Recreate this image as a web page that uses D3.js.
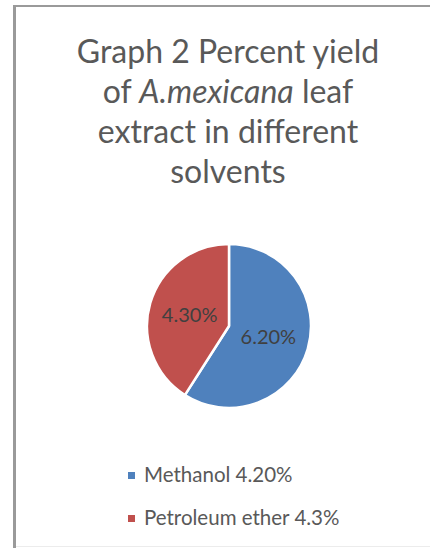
<!DOCTYPE html>
<meta charset="utf-8">
<script src="https://d3js.org/d3.v7.min.js"></script>
<style>
  body { margin: 0; background: #fff; }
  text { font-family: Lato, "Open Sans", sans-serif; }
</style>
<div id="chart"></div>
<script>
  // data
  var solvents = ["Methanol", "Petroleum ether"];
  var yields = [6.2, 4.3];
  var sliceLabels = ["6.20%", "4.30%"];
  var legendLabels = ["Methanol 4.20%", "Petroleum ether 4.3%"];
  var colors = ["#4f81bd", "#c0504d"];

  var width = 430, height = 548;
  var cx = 229, cy = 326, radius = 82;

  var svg = d3.select("#chart").append("svg")
    .attr("width", width)
    .attr("height", height);

  // frame of the chart area (partly cut off in the original)
  svg.append("rect").attr("x", 13).attr("y", 5).attr("width", 3).attr("height", height - 5).attr("fill", "#9a9a9a");
  svg.append("rect").attr("x", 13).attr("y", 5).attr("width", width - 13).attr("height", 2).attr("fill", "#9a9a9a");
  svg.append("rect").attr("x", 16).attr("y", 546).attr("width", width - 16).attr("height", 1).attr("fill", "#ececec");

  // title
  var title = svg.append("text")
    .attr("x", 228)
    .attr("text-anchor", "middle")
    .attr("fill", "#595959")
    .style("font-size", "32px");
  title.append("tspan").attr("x", 228).attr("y", 63).text("Graph 2 Percent yield");
  var l2 = title.append("tspan").attr("x", 228).attr("y", 103);
  l2.append("tspan").text("of ");
  l2.append("tspan").style("font-style", "italic").text("A.mexicana");
  l2.append("tspan").text(" leaf");
  title.append("tspan").attr("x", 228).attr("y", 143).text("extract in different");
  title.append("tspan").attr("x", 228).attr("y", 183).text("solvents");

  // pie
  var pie = d3.pie().sort(null).value(function(d) { return d; });
  var arc = d3.arc().innerRadius(0).outerRadius(radius);
  var arcs = pie(yields);

  var g = svg.append("g").attr("transform", "translate(" + cx + "," + cy + ")");
  g.selectAll("path")
    .data(arcs)
    .enter().append("path")
    .attr("d", arc)
    .attr("fill", function(d, i) { return colors[i]; })
    .attr("stroke", "#fff")
    .attr("stroke-width", 2.5)
    .attr("stroke-linejoin", "round");

  g.selectAll("text.lbl")
    .data(arcs)
    .enter().append("text")
    .attr("class", "lbl")
    .attr("transform", function(d) { return "translate(" + arc.centroid(d) + ")"; })
    .attr("dy", "0.35em")
    .attr("text-anchor", "middle")
    .attr("fill", "#404040")
    .style("font-size", "20px")
    .text(function(d, i) { return sliceLabels[i]; });

  // legend
  var legend = svg.append("g").attr("transform", "translate(128,0)");
  var rows = legend.selectAll("g")
    .data(solvents)
    .enter().append("g")
    .attr("transform", function(d, i) { return "translate(0," + (476 + i * 43) + ")"; });
  rows.append("rect")
    .attr("x", 0).attr("y", -4).attr("width", 7).attr("height", 7)
    .attr("fill", function(d, i) { return colors[i]; });
  rows.append("text")
    .attr("x", 16).attr("y", 6)
    .attr("fill", "#595959")
    .style("font-size", "20.5px")
    .text(function(d, i) { return legendLabels[i]; });
</script>
